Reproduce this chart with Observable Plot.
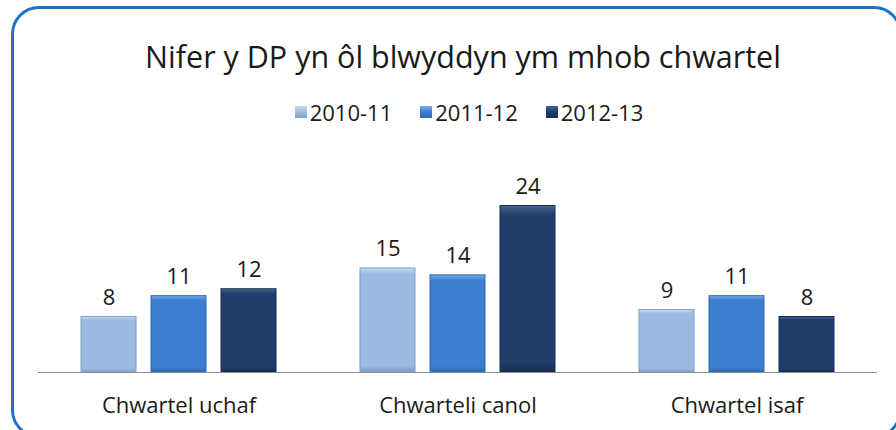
<!DOCTYPE html>
<html>
<head>
<meta charset="utf-8">
<script src="https://cdn.jsdelivr.net/npm/d3@7"></script>
<script src="https://cdn.jsdelivr.net/npm/@observablehq/plot@0.6"></script>
<style>
  body { margin: 0; background: #fff; }
  #wrap { position: relative; width: 896px; height: 430px; overflow: hidden; font-family: "Open Sans", sans-serif; color: #1a1a1a; background: #fff; }
  #frame { position: absolute; left: 11px; top: 6px; width: 891px; height: 432px; border: 3px solid #1f73c4; border-radius: 28px; box-sizing: border-box; pointer-events: none; }
  #title { position: absolute; left: 0; width: 926px; top: 35px; text-align: center; font-size: 30.5px; line-height: 42px; white-space: nowrap; }
  #legend { position: absolute; left: 0; width: 938px; top: 98px; display: flex; justify-content: center; gap: 28px; font-size: 22px; line-height: 28px; }
  #legend .item { display: flex; align-items: center; }
  #legend .sw { width: 12px; height: 12px; margin-right: 3px; }
  #chart { position: absolute; left: 0; top: 140px; }
</style>
</head>
<body>
<div id="wrap">
  <div id="title">Nifer y DP yn ôl blwyddyn ym mhob chwartel</div>
  <div id="legend"></div>
  <div id="chart"></div>
  <div id="frame"></div>
</div>
<script>
const categories = ["Chwartel uchaf", "Chwarteli canol", "Chwartel isaf"];
const series = ["2010-11", "2011-12", "2012-13"];
const values2010 = [8, 15, 9];
const values2011 = [11, 14, 11];
const values2012 = [12, 24, 8];

const seriesValues = [values2010, values2011, values2012];
const colors = ["#9dbbe1", "#3c7ed0", "#1f3d69"];
const lights = ["#c9dcf3", "#79a9e6", "#46648f"];
const darks = ["#7f9fc8", "#2e68b3", "#172f52"];

const rows = [];
series.forEach((s, i) => categories.forEach((c, j) => rows.push({series: s, si: i, category: c, value: seriesValues[i][j]})));

// legend
const legend = document.getElementById("legend");
series.forEach((s, i) => {
  const it = document.createElement("div");
  it.className = "item";
  it.innerHTML = `<span class="sw" style="background:linear-gradient(${lights[i]},${colors[i]} 50%,${darks[i]})"></span><span>${s}</span>`;
  legend.appendChild(it);
});

const defs = () => {
  const svg = d3.create("svg:g");
  const d = svg.append("defs");
  colors.forEach((c, i) => {
    const g = d.append("linearGradient").attr("id", "g" + i).attr("x1", 0).attr("y1", 0).attr("x2", 0).attr("y2", 1);
    g.append("stop").attr("offset", "0%").attr("stop-color", lights[i]);
    g.append("stop").attr("offset", "6%").attr("stop-color", c);
    g.append("stop").attr("offset", "94%").attr("stop-color", c);
    g.append("stop").attr("offset", "100%").attr("stop-color", darks[i]);
  });
  return svg.node();
};

const step = 70;
const marks = [defs];
series.forEach((s, i) => {
  const data = rows.filter(r => r.si === i);
  const dx = (i - 1) * step;
  marks.push(Plot.barY(data, {x: "category", y: "value", fill: `url(#g${i})`, stroke: darks[i], strokeWidth: 1, insetLeft: 112, insetRight: 112, dx}));
  marks.push(Plot.text(data, {x: "category", y: "value", text: d => String(d.value), dx, dy: -19, fontSize: 22, fill: "#1a1a1a", lineAnchor: "middle"}));
});
marks.push(Plot.ruleY([0], {stroke: "#8c8c8c", strokeWidth: 1.2}));

const chart = Plot.plot({
  width: 896,
  height: 290,
  marginTop: 62,
  marginBottom: 58,
  marginLeft: 38,
  marginRight: 19,
  style: {fontFamily: "'Open Sans', sans-serif", fontSize: "22px", color: "#1a1a1a", background: "transparent", overflow: "visible"},
  x: {domain: categories, padding: 0, tickSize: 0, tickPadding: 25, label: null},
  y: {domain: [0, 24.5], axis: null},
  marks
});
document.getElementById("chart").appendChild(chart);
</script>
</body>
</html>
